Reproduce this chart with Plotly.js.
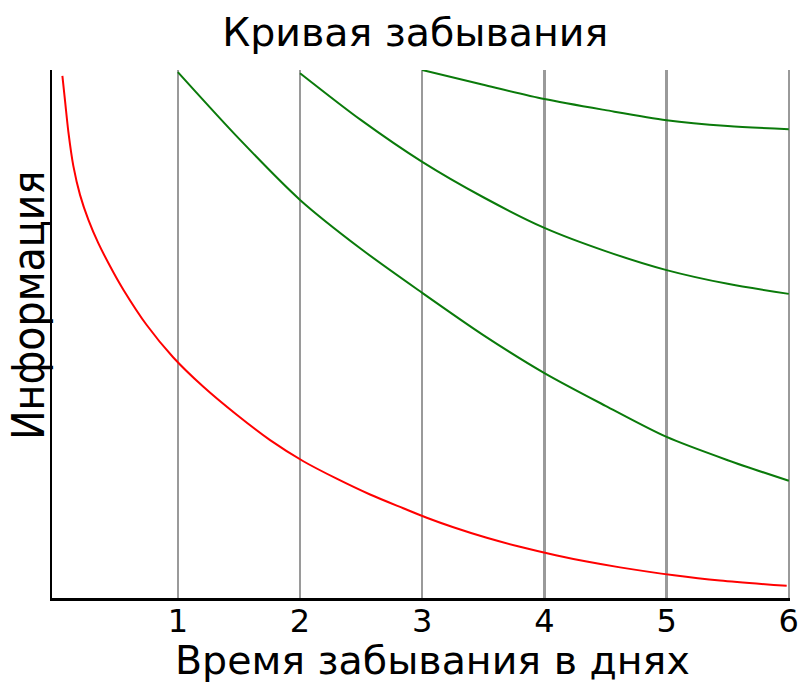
<!DOCTYPE html>
<html>
<head>
<meta charset="utf-8">
<script src="https://cdn.plot.ly/plotly-3.0.1.min.js"></script>
<style>html,body{margin:0;padding:0;background:#fff;}#chart{width:800px;height:684px;}</style>
</head>
<body>
<div id="chart"></div>
<script>
// Tick labels (days)
const dayTicks = [1, 2, 3, 4, 5, 6];
const dayTickText = ["1", "2", "3", "4", "5", "6"];

// Red: forgetting without review
const redDays = [0.055, 0.077, 0.104, 0.145, 0.200, 0.268, 0.349, 0.472, 0.554, 0.745, 0.961, 1.209, 1.482, 1.755, 2.027, 2.300, 2.573, 2.845, 3.037, 3.255, 3.528, 3.800, 4.093, 4.346, 4.619, 5.061, 5.437, 5.983];
const redInfo = [98.9, 94.1, 88.3, 81.8, 76.3, 71.6, 67.2, 61.7, 58.4, 51.7, 45.6, 40.0, 34.7, 29.9, 25.9, 22.6, 19.6, 17.0, 15.2, 13.4, 11.4, 9.7, 8.1, 6.9, 5.8, 4.3, 3.3, 2.3];

// Green: after first review (day 1)
const green1Days = [1, 1.5, 2, 2.5, 3, 3.5, 4, 4.5, 5, 5.5, 6];
const green1Info = [99.6, 87.0, 75.4, 66.1, 57.8, 49.8, 42.6, 36.4, 30.5, 26.1, 22.2];

// Green: after second review (day 2)
const green2Days = [2, 2.5, 3, 3.5, 4, 4.5, 5, 5.5, 6];
const green2Info = [99.4, 90.5, 82.6, 75.9, 70.1, 65.7, 62.1, 59.5, 57.6];

// Green: after third review (day 3)
const green3Days = [3, 3.5, 4, 4.5, 5, 5.5, 6];
const green3Info = [100, 97.2, 94.5, 92.4, 90.5, 89.4, 88.8];

const titleText = "Кривая забывания";
const xTitleText = "Время забывания в днях";
const yTitleText = "Информация";

const font = "DejaVu Sans, sans-serif";
const green = "#0a7a0a";

const mk = (x, y, color) => ({
  x: x, y: y, type: "scatter", mode: "lines",
  line: {color: color, width: 2, shape: "spline", smoothing: 0.8},
  hoverinfo: "skip", showlegend: false, cliponaxis: false
});

const data = [
  mk(redDays, redInfo, "#ff0000"),
  mk(green1Days, green1Info, green),
  mk(green2Days, green2Info, green),
  mk(green3Days, green3Info, green)
];

const layout = {
  width: 800, height: 684,
  margin: {l: 52, r: 10, t: 70, b: 86, pad: 0},
  paper_bgcolor: "#fff", plot_bgcolor: "#fff",
  font: {family: font, color: "#000"},
  title: {text: titleText, font: {family: font, size: 39.5, color: "#000"},
          x: 0.519, xanchor: "center", y: 0.953, yanchor: "middle"},
  xaxis: {
    range: [-0.03, 6.01], tickvals: dayTicks, ticktext: dayTickText,
    showgrid: true, gridcolor: "#9a9a9a", gridwidth: 2.5,
    zeroline: false, showline: true, linecolor: "#000", linewidth: 2.5,
    ticks: "", ticklabelstandoff: -7,
    tickfont: {family: font, size: 32, color: "#000"},
    automargin: false, fixedrange: true
  },
  yaxis: {
    range: [0, 100], showticklabels: false, ticks: "",
    showgrid: false, zeroline: false, showline: true, linecolor: "#000", linewidth: 2.5,
    automargin: false, fixedrange: true
  },
  annotations: [
    {text: xTitleText, xref: "paper", yref: "paper", x: 0.516, y: -0.118,
     xanchor: "center", yanchor: "middle", showarrow: false,
     font: {family: font, size: 39.5, color: "#000"}},
    {text: yTitleText, xref: "paper", yref: "paper", x: -0.0325, y: 0.553,
     xanchor: "center", yanchor: "middle", showarrow: false, textangle: -90,
     font: {family: "DejaVu Sans Condensed, DejaVu Sans, sans-serif", size: 44, color: "#000"}}
  ]
};

Plotly.newPlot("chart", data, layout, {displayModeBar: false, staticPlot: true});
</script>
</body>
</html>
